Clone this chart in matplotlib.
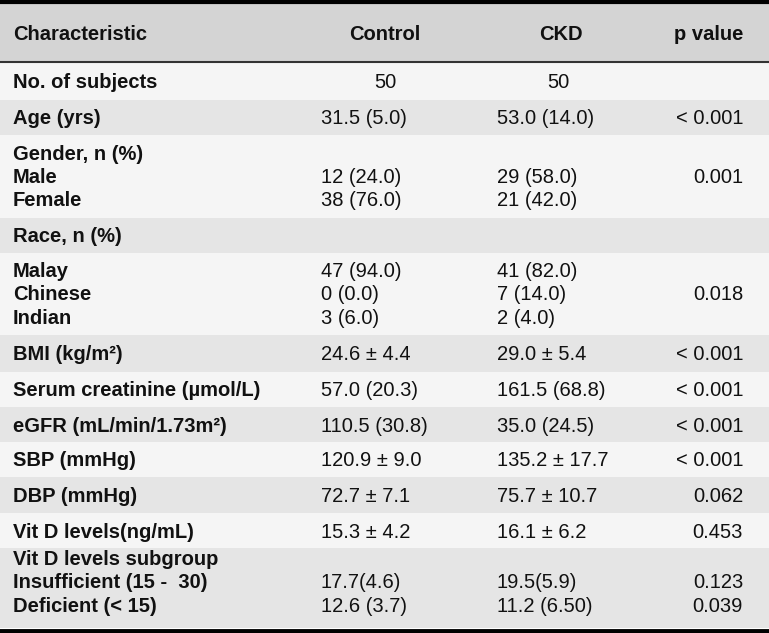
import matplotlib as mpl
import matplotlib.pyplot as plt
from matplotlib.patches import Rectangle

mpl.rcParams.update({
    "font.family": ["Liberation Sans", "DejaVu Sans"],
    "font.size": 14.5,
})

# --- Table content ---
headers = ["Characteristic", "Control", "CKD", "p value"]

labels = [
    ["No. of subjects"],
    ["Age (yrs)"],
    ["Gender, n (%)", "Male", "Female"],
    ["Race, n (%)"],
    ["Malay", "Chinese", "Indian"],
    ["BMI (kg/m²)"],
    ["Serum creatinine (µmol/L)"],
    ["eGFR (mL/min/1.73m²)"],
    ["SBP (mmHg)"],
    ["DBP (mmHg)"],
    ["Vit D levels(ng/mL)"],
    ["Vit D levels subgroup", "Insufficient (15 -  30)", "Deficient (< 15)"],
]
control = [
    ["50"],
    ["31.5 (5.0)"],
    ["", "12 (24.0)", "38 (76.0)"],
    [""],
    ["47 (94.0)", "0 (0.0)", "3 (6.0)"],
    ["24.6 ± 4.4"],
    ["57.0 (20.3)"],
    ["110.5 (30.8)"],
    ["120.9 ± 9.0"],
    ["72.7 ± 7.1"],
    ["15.3 ± 4.2"],
    ["", "17.7(4.6)", "12.6 (3.7)"],
]
ckd = [
    ["50"],
    ["53.0 (14.0)"],
    ["", "29 (58.0)", "21 (42.0)"],
    [""],
    ["41 (82.0)", "7 (14.0)", "2 (4.0)"],
    ["29.0 ± 5.4"],
    ["161.5 (68.8)"],
    ["35.0 (24.5)"],
    ["135.2 ± 17.7"],
    ["75.7 ± 10.7"],
    ["16.1 ± 6.2"],
    ["", "19.5(5.9)", "11.2 (6.50)"],
]
p_values = [
    [""],
    ["< 0.001"],
    ["", "0.001", ""],
    [""],
    ["", "0.018", ""],
    ["< 0.001"],
    ["< 0.001"],
    ["< 0.001"],
    ["< 0.001"],
    ["0.062"],
    ["0.453"],
    ["", "0.123", "0.039"],
]

# --- Layout (pixels) ---
W, H = 769, 633
row_edges = [62, 100, 135, 218, 253, 335, 372, 407, 442, 477, 513, 548, 628]
line_gap = 23.5
x_label = 13
x_ctrl, x_ctrl_c = 321, 385
x_ckd, x_ckd_c = 497, 558
x_p = 743

HEADER_BG = "#d4d4d4"
BAND_LIGHT = "#f5f5f5"
BAND_DARK = "#e5e5e5"
TXT = "#111111"

fig = plt.figure(figsize=(W / 100, H / 100), dpi=100)
ax = fig.add_axes([0, 0, 1, 1])
ax.set_xlim(0, W)
ax.set_ylim(H, 0)
ax.axis("off")

# backgrounds
ax.add_patch(Rectangle((0, 0), W, row_edges[0], facecolor=HEADER_BG, edgecolor="none"))
for i in range(len(labels)):
    y0, y1 = row_edges[i], row_edges[i + 1]
    ax.add_patch(Rectangle((0, y0), W, y1 - y0,
                           facecolor=BAND_LIGHT if i % 2 == 0 else BAND_DARK,
                           edgecolor="none"))

# rules
ax.axhline(1.5, color="black", linewidth=3.0)
ax.axhline(row_edges[0], color="#333333", linewidth=1.5)
ax.axhline(630.5, color="black", linewidth=3.5)

# header
hy = 34
ax.text(x_label, hy, headers[0], ha="left", va="center", fontweight="bold", color=TXT)
ax.text(x_ctrl_c, hy, headers[1], ha="center", va="center", fontweight="bold", color=TXT)
ax.text(561, hy, headers[2], ha="center", va="center", fontweight="bold", color=TXT)
ax.text(x_p, hy, headers[3], ha="right", va="center", fontweight="bold", color=TXT)

# body
for i in range(len(labels)):
    y0, y1 = row_edges[i], row_edges[i + 1]
    n = len(labels[i])
    yc = (y0 + y1) / 2 + (1.5 if n == 1 else 1)
    if i == len(labels) - 1:
        yc -= 6
    for k in range(n):
        y = yc + (k - (n - 1) / 2) * line_gap
        ax.text(x_label, y, labels[i][k], ha="left", va="center",
                fontweight="bold", color=TXT)
        if i == 0:
            ax.text(x_ctrl_c, y, control[i][k], ha="center", va="center", color=TXT)
            ax.text(x_ckd_c, y, ckd[i][k], ha="center", va="center", color=TXT)
        else:
            ax.text(x_ctrl, y, control[i][k], ha="left", va="center", color=TXT)
            ax.text(x_ckd, y, ckd[i][k], ha="left", va="center", color=TXT)
        ax.text(x_p, y, p_values[i][k], ha="right", va="center", color=TXT)

fig.savefig("out.png", dpi=100)
